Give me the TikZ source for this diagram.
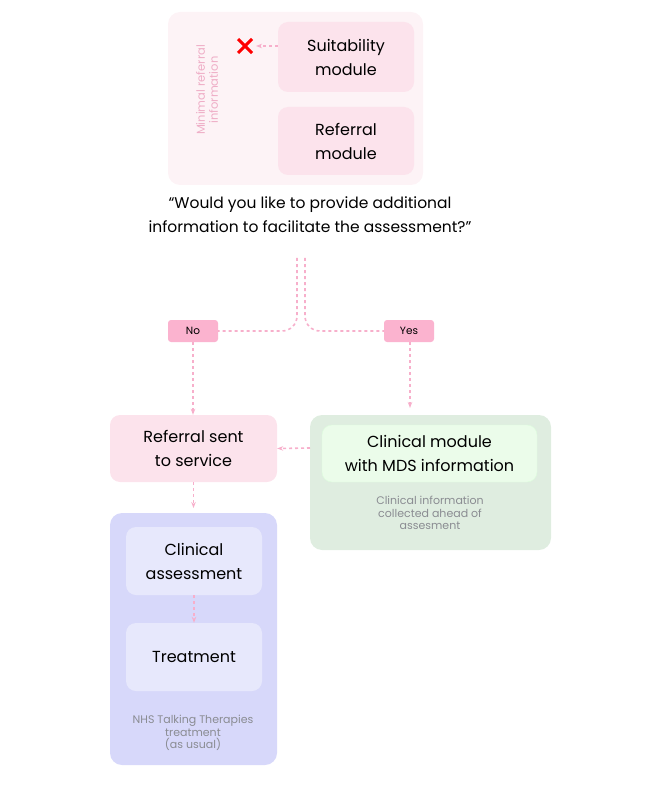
\documentclass[tikz,border=0pt]{standalone}
\usepackage{fontspec}
\setmainfont{Poppins}
\usetikzlibrary{arrows.meta}
\definecolor{pinkbg}{HTML}{FDF3F6}
\definecolor{pinkbox}{HTML}{FCE3EC}
\definecolor{pinktag}{HTML}{FBB3CF}
\definecolor{pinkline}{HTML}{F7AFCB}
\definecolor{greenbg}{HTML}{DFEDE0}
\definecolor{greenin}{HTML}{EBFCEA}
\definecolor{bluebg}{HTML}{D7D8FA}
\definecolor{bluein}{HTML}{E7E8FC}
\definecolor{greytxt}{HTML}{8A8C92}
\begin{document}
\begin{tikzpicture}[x=1pt,y=-1pt,
  box/.style={rounded corners=10pt,draw=none,align=center,font=\fontsize{16}{24}\selectfont},
  tag/.style={rounded corners=3pt,fill=pinktag,font=\fontsize{10.5}{12}\selectfont,minimum width=50pt,minimum height=22pt,inner sep=0pt},
  flow/.style={draw=pinkline,dashed,line width=1.6pt,-{Stealth[length=6pt]}},
  note/.style={text=greytxt,align=center,font=\fontsize{11}{12.5}\selectfont}]
\useasboundingbox (0,0) rectangle (666,799);
% top group
\fill[pinkbg,rounded corners=12pt] (168,12) rectangle (423,185);
\node[box,fill=pinkbox,minimum width=136pt,minimum height=70pt] (suit) at (346,57) {Suitability\\module};
\node[box,fill=pinkbox,minimum width=136pt,minimum height=68pt] (ref) at (346,141) {Referral\\module};
\coordinate (cross) at (245,46);
\draw[red,line width=3pt] ([shift={(-7,-7)}]cross) -- ([shift={(7,7)}]cross) ([shift={(-7,7)}]cross) -- ([shift={(7,-7)}]cross);
\node[rotate=90,text=pinktag!90!gray,align=center,font=\fontsize{11.5}{13}\selectfont] (minimal) at (207,90) {Minimal referral\\information};
\draw[flow] (suit.west |- cross) -- ([xshift=11pt]cross);
% question
\node[align=center,font=\fontsize{15.5}{24}\selectfont] (quest) at (310,215) {“Would you like to provide additional\\information to facilitate the assessment?”};
\node[tag] (no) at (193,331) {No};
\node[tag] (yes) at (409,331) {Yes};
\coordinate (ql) at (297,258);
\coordinate (qr) at (305,258);
\draw[draw=pinkline,dashed,line width=1.6pt,rounded corners=15pt] (ql) |- (no.east);
\draw[draw=pinkline,dashed,line width=1.6pt,rounded corners=15pt] (qr) |- (yes.west);
% lower boxes
\node[box,fill=pinkbox,minimum width=167pt,minimum height=67pt] (sent) at (193.5,448.5) {Referral sent\\to service};
\fill[greenbg,rounded corners=12pt] (310,415) rectangle (551,550);
\node[box,fill=greenin,draw=greenin!60!green!30,minimum width=215pt,minimum height=57pt] (clin) at (429.5,453.5) {Clinical module\\with MDS information};
\node[note] (cnote) at (430,513) {Clinical information\\collected ahead of\\assesment};
\draw[flow] (410,342) -- (410,408);
\draw[flow] (no.south) -- (no.south |- sent.north);
\draw[flow] (310,448) -- (sent.east);
% treatment group
\fill[bluebg,rounded corners=12pt] (110,513) rectangle (277,765);
\node[box,fill=bluein,minimum width=136pt,minimum height=68pt] (assess) at (194,561) {Clinical\\assessment};
\node[box,fill=bluein,minimum width=136pt,minimum height=68pt] (treat) at (194,657) {Treatment};
\node[note] (tnote) at (193,733) {NHS Talking Therapies\\treatment\\(as usual)};
\draw[flow] (sent.south) -- (193.5,508);
\draw[flow] (assess.south) -- (treat.north);
\end{tikzpicture}
\end{document}
